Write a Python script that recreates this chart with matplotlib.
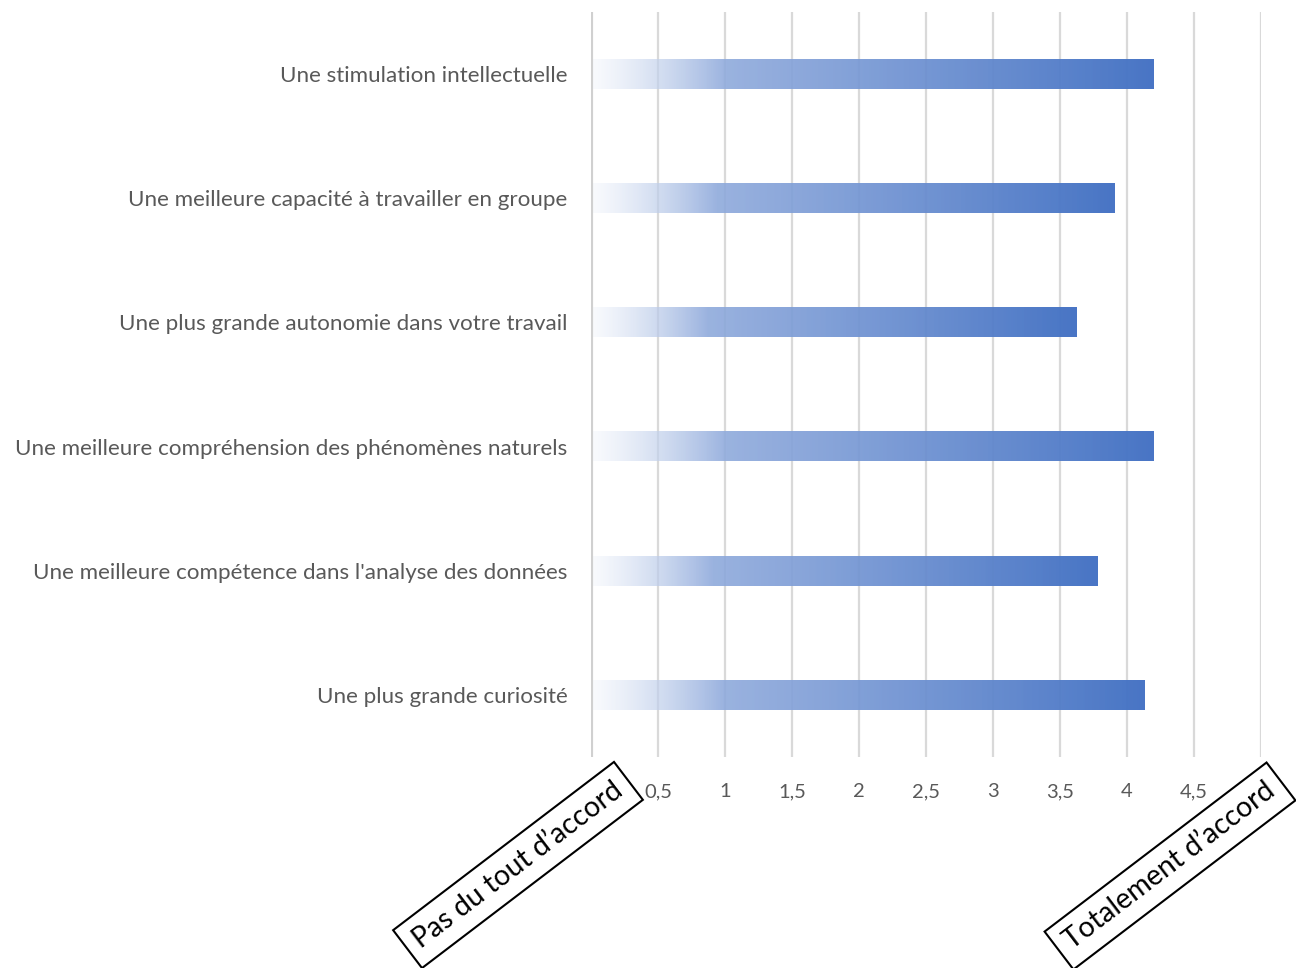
import numpy as np
import matplotlib
matplotlib.use("Agg")
import matplotlib.pyplot as plt
from matplotlib.colors import to_rgb

plt.rcParams['font.family'] = ['Lato', 'DejaVu Sans']

categories = [
    "Une stimulation intellectuelle",
    "Une meilleure capacité à travailler en groupe",
    "Une plus grande autonomie dans votre travail",
    "Une meilleure compréhension des phénomènes naturels",
    "Une meilleure compétence dans l'analyse des données",
    "Une plus grande curiosité",
]
values = [4.20, 3.91, 3.62, 4.20, 3.78, 4.13]
xticks = [0, 0.5, 1, 1.5, 2, 2.5, 3, 3.5, 4, 4.5, 5]
xticklabels = ["0", "0,5", "1", "1,5", "2", "2,5", "3", "3,5", "4", "4,5", "5"]
left_label = "Pas du tout d’accord"
right_label = "Totalement d’accord"

fig = plt.figure(figsize=(12.96, 9.68), dpi=100)
ax = fig.add_axes([591/1296, 1-757/968, (1261-591)/1296, (757-12)/968])

n = len(categories)
ys = np.arange(n)[::-1]
bar_h = 0.24

# gradient colours
c_start = np.array([0.96, 0.97, 0.99])
c_mid = np.array(to_rgb("#8FAADC"))
c_end = np.array(to_rgb("#4472C4"))
stop = 0.24
N = 400
t = np.linspace(0, 1, N)
grad = np.zeros((1, N, 4))
for i, tt in enumerate(t):
    if tt < stop:
        f = tt / stop
        rgb = c_start * (1 - f) + c_mid * f
        a = 0.5 + 0.4 * f
    else:
        f = (tt - stop) / (1 - stop)
        rgb = c_mid * (1 - f) + c_end * f
        a = 0.9 + 0.08 * f
    grad[0, i, :3] = rgb
    grad[0, i, 3] = a

for y, v in zip(ys, values):
    ax.imshow(grad, extent=[0, v, y - bar_h/2, y + bar_h/2], aspect='auto',
              interpolation='bilinear', zorder=3)

ax.set_xlim(0, 5)
ax.set_ylim(-0.5, n - 0.5)
ax.set_yticks(ys)
ax.set_yticklabels(categories, fontsize=16.1, color="#595959")
ax.set_xticks(xticks)
ax.set_xticklabels(xticklabels, fontsize=14.5, color="#595959")
ax.tick_params(axis='y', length=0, pad=17)
ax.tick_params(axis='x', length=0, pad=19)
for x in xticks[1:]:
    ax.axvline(x, color="#D9D9D9", lw=1.6, zorder=1)
ax.axvline(0, color="#D0D0D0", lw=3, zorder=4)
for s in ax.spines.values():
    s.set_visible(False)

box = dict(boxstyle="square,pad=0.38", facecolor="white", edgecolor="black", lw=1.5)
fig.text(518/1296, 1-865/968, left_label, rotation=37.3, rotation_mode='anchor',
         ha='center', va='center', fontsize=20.5, color="black", bbox=box, zorder=10)
fig.text(1170/1296, 1-866/968, right_label, rotation=37.3, rotation_mode='anchor',
         ha='center', va='center', fontsize=20.5, color="black", bbox=box, zorder=10)

fig.savefig("out.png", dpi=100)
